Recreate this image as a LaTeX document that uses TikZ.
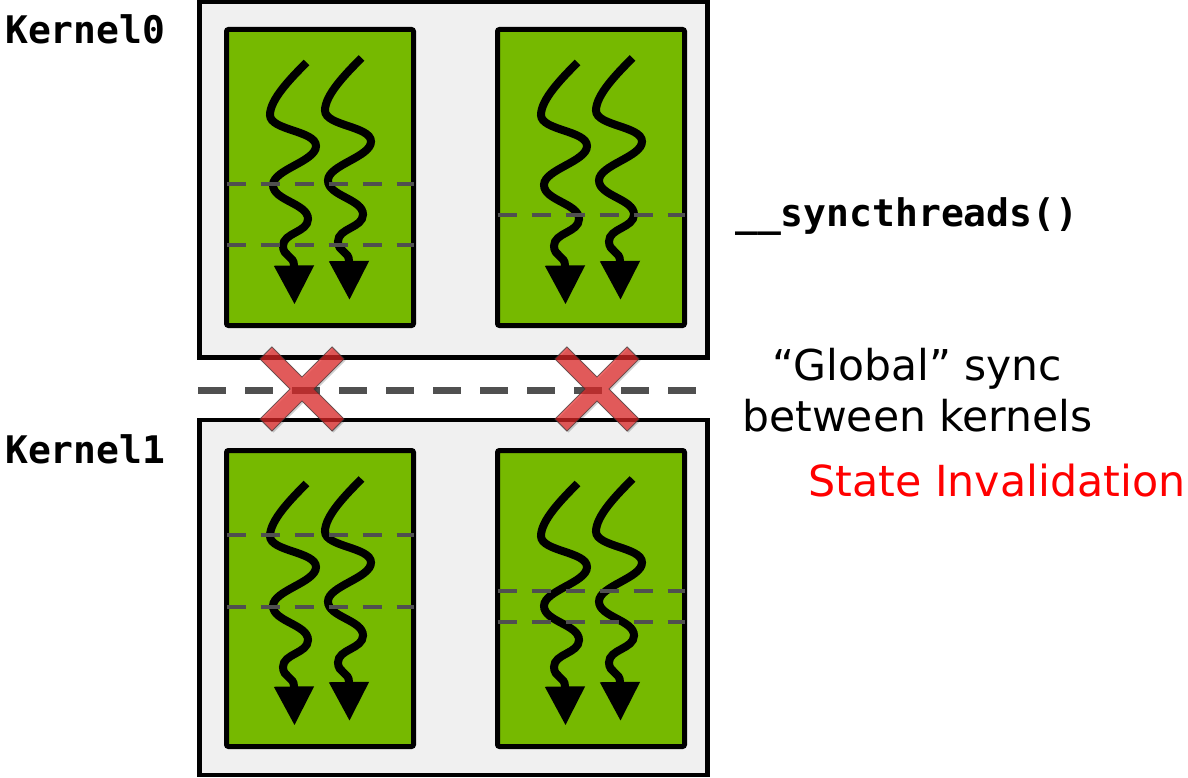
\documentclass[tikz,border=0pt]{standalone}
\usepackage{fontspec}
\setmainfont{DejaVu Sans}
\setmonofont{DejaVu Sans Mono}
\usetikzlibrary{arrows.meta}

\definecolor{nvgreen}{HTML}{76B900}
\definecolor{panel}{HTML}{F0F0F0}
\definecolor{barrier}{HTML}{505050}
\definecolor{xred}{RGB}{233,40,40}

% one warp thread: a wiggly line ending in a big triangular head
\newcommand\threadcurve{%
  (80,33) .. controls (64,49) and (43.5,70) .. (43.5,85.5)
  .. controls (43.5,101) and (89.5,101) .. (89.5,116.5)
  .. controls (89.5,132) and (46.5,140) .. (46.5,155.5)
  .. controls (46.5,171) and (81.5,174) .. (81.5,189.5)
  .. controls (81.5,203) and (56.5,203) .. (56.5,216.5)
  .. controls (56.5,227) and (67.5,226) .. (67.5,236)
  -- (68,275)}

\tikzset{
  pics/threads/.style={code={
    \draw[thread] \threadcurve;
    \draw[thread, shift={(55,-4.5)}] \threadcurve;
  }},
  pics/nogo/.style={code={
    \fill[black, opacity=0.18, shift={(1.5,1.5)}, rotate=45]
      (51,8.5) -- (8.5,8.5) -- (8.5,51) -- (-8.5,51) -- (-8.5,8.5) -- (-51,8.5) -- (-51,-8.5)
      -- (-8.5,-8.5) -- (-8.5,-51) -- (8.5,-51) -- (8.5,-8.5) -- (51,-8.5) -- cycle;
    \filldraw[fill=xred, fill opacity=0.7, draw=black!80, draw opacity=0.65,
              line width=0.9pt, rotate=45]
      (51,8.5) -- (8.5,8.5) -- (8.5,51) -- (-8.5,51) -- (-8.5,8.5) -- (-51,8.5) -- (-51,-8.5)
      -- (-8.5,-8.5) -- (-8.5,-51) -- (8.5,-51) -- (8.5,-8.5) -- (51,-8.5) -- cycle;
  }}
}

\begin{document}
\begin{tikzpicture}[x=1pt, y=-1pt,
  kernelbox/.style={rectangle, draw=black, line width=4.5pt, fill=panel,
    inner sep=0pt, outer sep=0pt, minimum width=508pt, minimum height=355pt},
  blockbox/.style={rectangle, draw=black, line width=5pt, fill=nvgreen,
    rounded corners=2pt, inner sep=0pt, outer sep=0pt,
    minimum width=187pt, minimum height=296pt},
  syncline/.style={draw=barrier, line width=4.3pt, dash pattern=on 19pt off 15pt},
  gridsync/.style={draw=barrier, line width=7pt, dash pattern=on 28pt off 19pt},
  thread/.style={draw=black, line width=8pt, -{Triangle[width=38pt,length=39pt]}},
  codelabel/.style={font=\ttfamily\bfseries\fontsize{38}{38}\selectfont, inner sep=0pt},
  note/.style={font=\fontsize{42.5}{42.5}\selectfont, inner sep=0pt},
  alert/.style={font=\fontsize{42.8}{42.8}\selectfont, text=red, inner sep=0pt}
]
\useasboundingbox (0,0) rectangle (1188,778);

% kernels and their thread blocks
\node[kernelbox] (k0) at (453.5,179.75) {};
\node[kernelbox] (k1) at (453.5,597.5) {};

\node[blockbox] (b00) at (320,177.5) {};
\node[blockbox] (b01) at (591,177.5) {};
\node[blockbox] (b10) at (320,598.5) {};
\node[blockbox] (b11) at (591,598.5) {};

% threads inside each block
\pic at (b00.north west) {threads};
\pic at (b01.north west) {threads};
\pic at (b10.north west) {threads};
\pic at (b11.north west) {threads};

% __syncthreads() barriers inside the blocks
\draw[syncline] ([yshift=-154.5pt]b00.north west) -- ([yshift=-154.5pt]b00.north east);
\draw[syncline] ([yshift=-215.5pt]b00.north west) -- ([yshift=-215.5pt]b00.north east);
\draw[syncline] ([yshift=-185.5pt]b01.north west) -- ([yshift=-185.5pt]b01.north east);
\draw[syncline] ([yshift=-84.5pt]b10.north west) -- ([yshift=-84.5pt]b10.north east);
\draw[syncline] ([yshift=-156.5pt]b10.north west) -- ([yshift=-156.5pt]b10.north east);
\draw[syncline] ([yshift=-140.5pt]b11.north west) -- ([yshift=-140.5pt]b11.north east);
\draw[syncline] ([yshift=-171.5pt]b11.north west) -- ([yshift=-171.5pt]b11.north east);

% global barrier between the kernels
\coordinate (gl) at (198,390);
\coordinate (gr) at (696,390);
\draw[gridsync] (gl) -- (gr);

% crossed-out block-to-block sync
\pic at (302,389) {nogo};
\pic at (597,389) {nogo};

% labels
\node[codelabel, anchor=base west] (lk0) at (5,43.5) {Kernel0};
\node[codelabel, anchor=base west] (lk1) at (5,463.5) {Kernel1};
\node[codelabel, anchor=base west] (lsync) at (735,226) {\_\_syncthreads()};
\node[note, anchor=base] (lglob1) at (917.5,380) {“Global” sync};
\node[note, anchor=base] (lglob2) at (917.5,431.7) {between kernels};
\node[alert, anchor=base] (linv) at (997,496.7) {State Invalidation};
\end{tikzpicture}
\end{document}
